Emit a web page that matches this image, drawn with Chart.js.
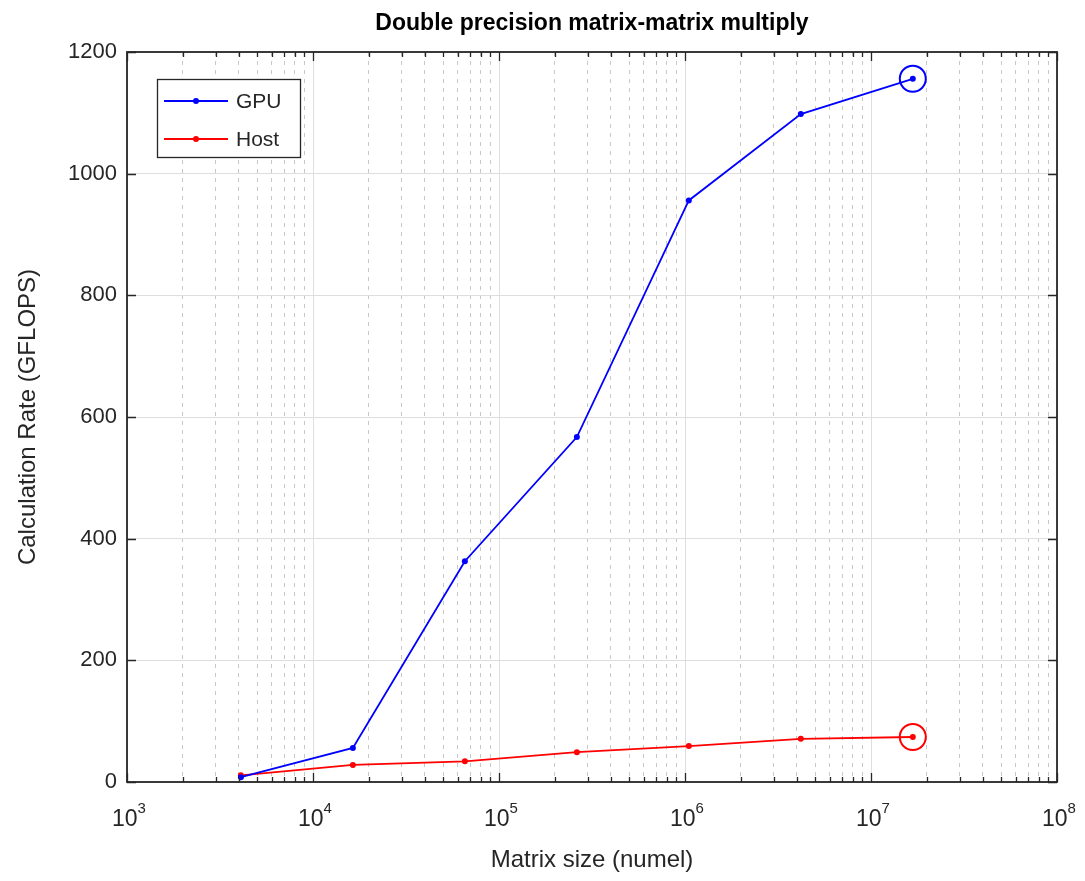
<!DOCTYPE html>
<html>
<head>
<meta charset="utf-8">
<script src="https://cdn.jsdelivr.net/npm/chart.js@4"></script>
<style>
  html, body { margin: 0; padding: 0; background: #fff; }
  #wrap { width: 1085px; height: 881px; }
</style>
</head>
<body>
<div id="wrap"><canvas id="myChart" width="1085" height="881"></canvas></div>
<script>
// matrix sizes (numel) and measured rates
const sizes = [4096, 16384, 65536, 262144, 1048576, 4194304, 16777216];
const gpuRate = [8, 56, 363, 567, 956, 1098, 1156];
const hostRate = [11, 28, 34, 49, 59, 71, 74];
const seriesNames = ["GPU", "Host"];
const seriesColors = ["#0000ff", "#ff0000"];
const decadeExps = [3, 4, 5, 6, 7, 8];
const yTickValues = [0, 200, 400, 600, 800, 1000, 1200];
const chartTitle = "Double precision matrix-matrix multiply";

const ink = "#262626";
const fontName = "'Liberation Sans', Arial, Helvetica, sans-serif";

function toPoints(xs, ys) {
  let pts = [];
  for (let i = 0; i < xs.length; i++) {
    pts.push({ x: xs[i], y: ys[i] });
  }
  return pts;
}

// all ticks 1..9 x 10^n for the log axis
let xTickValues = [];
for (let e = decadeExps[0]; e < decadeExps[decadeExps.length - 1]; e++) {
  for (let m = 1; m < 10; m++) xTickValues.push(m * Math.pow(10, e));
}
xTickValues.push(Math.pow(10, decadeExps[decadeExps.length - 1]));

function isDecade(v) {
  const l = Math.log10(v);
  return Math.abs(l - Math.round(l)) < 1e-9;
}

const last = sizes.length - 1;

const boxPlugin = {
  id: "matlabBox",
  afterDraw(chart) {
    const ctx = chart.ctx;
    const a = chart.chartArea;
    const xs = chart.scales.x;
    const ys = chart.scales.y;
    ctx.save();

    // title, centred over the plot box
    ctx.fillStyle = "#000";
    ctx.font = "bold 23px " + fontName;
    ctx.textAlign = "center";
    ctx.textBaseline = "middle";
    ctx.fillText(chartTitle, (a.left + a.right) / 2, 24);

    // ticks (inward) on all four sides
    ctx.strokeStyle = ink;
    ctx.lineWidth = 1.3;
    xTickValues.forEach((v) => {
      const px = Math.round(xs.getPixelForValue(v)) + 0.5;
      const len = isDecade(v) ? 9 : 5;
      ctx.beginPath();
      ctx.moveTo(px, a.bottom);
      ctx.lineTo(px, a.bottom - len);
      ctx.moveTo(px, a.top);
      ctx.lineTo(px, a.top + len);
      ctx.stroke();
    });
    yTickValues.forEach((v) => {
      const py = Math.round(ys.getPixelForValue(v)) + 0.5;
      ctx.beginPath();
      ctx.moveTo(a.left, py);
      ctx.lineTo(a.left + 9, py);
      ctx.moveTo(a.right, py);
      ctx.lineTo(a.right - 9, py);
      ctx.stroke();
    });

    // frame
    ctx.lineWidth = 1.8;
    ctx.strokeRect(a.left, a.top, a.right - a.left, a.bottom - a.top);

    // x tick labels 10^n
    ctx.fillStyle = ink;
    ctx.textBaseline = "alphabetic";
    decadeExps.forEach((e) => {
      const px = xs.getPixelForValue(Math.pow(10, e));
      ctx.font = "23px " + fontName;
      const w1 = ctx.measureText("10").width;
      ctx.font = "15px " + fontName;
      const w2 = ctx.measureText(String(e)).width;
      const x0 = px - (w1 + w2) / 2 + 2;
      ctx.font = "23px " + fontName;
      ctx.textAlign = "left";
      ctx.fillText("10", x0, 826);
      ctx.font = "15px " + fontName;
      ctx.fillText(String(e), x0 + w1, 813);
    });

    // legend
    const lx = 157, ly = 79, lw = 143, lh = 78;
    ctx.fillStyle = "#fff";
    ctx.fillRect(lx, ly, lw, lh);
    ctx.strokeStyle = ink;
    ctx.lineWidth = 1.3;
    ctx.strokeRect(lx + 0.5, ly + 0.5, lw, lh);
    chart.data.datasets.slice(0, 2).forEach((ds, i) => {
      const yy = ly + 22 + i * 38;
      ctx.strokeStyle = ds.borderColor;
      ctx.lineWidth = 1.8;
      ctx.beginPath();
      ctx.moveTo(lx + 7, yy);
      ctx.lineTo(lx + 71, yy);
      ctx.stroke();
      ctx.fillStyle = ds.borderColor;
      ctx.beginPath();
      ctx.arc(lx + 39, yy, 3, 0, Math.PI * 2);
      ctx.fill();
      ctx.fillStyle = ink;
      ctx.font = "21px " + fontName;
      ctx.textAlign = "left";
      ctx.textBaseline = "middle";
      ctx.fillText(ds.label, lx + 79, yy + 1);
    });
    ctx.restore();
  },
};

let myChart = document.getElementById("myChart").getContext("2d");
let myGraph = new Chart(myChart, {
  type: "line",
  data: {
    datasets: [
      {
        label: seriesNames[0],
        data: toPoints(sizes, gpuRate),
        borderColor: seriesColors[0],
        backgroundColor: seriesColors[0],
        borderWidth: 1.8,
        pointRadius: 3,
        pointBorderWidth: 0,
        tension: 0,
      },
      {
        label: seriesNames[1],
        data: toPoints(sizes, hostRate),
        borderColor: seriesColors[1],
        backgroundColor: seriesColors[1],
        borderWidth: 1.8,
        pointRadius: 3,
        pointBorderWidth: 0,
        tension: 0,
      },
      {
        label: "GPU peak",
        data: [{ x: sizes[last], y: gpuRate[last] }],
        showLine: false,
        borderColor: seriesColors[0],
        pointBackgroundColor: "rgba(0,0,0,0)",
        pointBorderColor: seriesColors[0],
        pointRadius: 13,
        pointBorderWidth: 2,
      },
      {
        label: "Host peak",
        data: [{ x: sizes[last], y: hostRate[last] }],
        showLine: false,
        borderColor: seriesColors[1],
        pointBackgroundColor: "rgba(0,0,0,0)",
        pointBorderColor: seriesColors[1],
        pointRadius: 13,
        pointBorderWidth: 2,
      },
    ],
  },
  options: {
    responsive: false,
    animation: false,
    layout: { padding: { top: 52, right: 28, bottom: 0, left: 0 } },
    plugins: {
      legend: { display: false },
      tooltip: { enabled: false },
      title: { display: false },
    },
    scales: {
      x: {
        type: "logarithmic",
        min: 1e3,
        max: 1e8,
        afterBuildTicks: (scale) => {
          scale.ticks = xTickValues.map((v) => ({ value: v }));
        },
        afterFit: (scale) => {
          scale.height = 99;
        },
        ticks: { display: false },
        grid: {
          drawTicks: false,
          color: (c) => (c.tick && isDecade(c.tick.value) ? "#dedede" : "#c8c8c8"),
          lineWidth: 1,
        },
        border: {
          display: false,
          dash: (c) => (c.tick && isDecade(c.tick.value) ? [] : [4, 5]),
        },
        title: {
          display: true,
          text: "Matrix size (numel)",
          color: ink,
          font: { family: fontName, size: 24 },
          padding: { top: 0, bottom: 6 },
        },
      },
      y: {
        min: 0,
        max: 1200,
        afterBuildTicks: (scale) => {
          scale.ticks = yTickValues.map((v) => ({ value: v }));
        },
        afterFit: (scale) => {
          scale.width = 127;
        },
        ticks: {
          color: ink,
          font: { family: fontName, size: 22 },
          padding: 10,
          callback: (v) => String(v),
        },
        grid: { drawTicks: false, color: "#dedede", lineWidth: 1 },
        border: { display: false },
        title: {
          display: true,
          text: "Calculation Rate (GFLOPS)",
          color: ink,
          font: { family: fontName, size: 24 },
          padding: { top: 14, bottom: 0 },
        },
      },
    },
  },
  plugins: [boxPlugin],
});
</script>
</body>
</html>
